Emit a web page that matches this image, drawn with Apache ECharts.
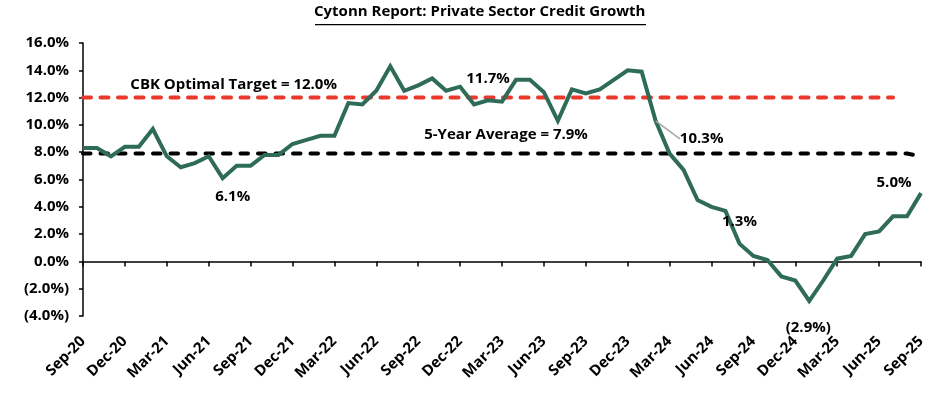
<!DOCTYPE html>
<html>
<head>
<meta charset="utf-8">
<script src="https://cdn.jsdelivr.net/npm/echarts@6/dist/echarts.min.js"></script>
<style>
  html, body { margin: 0; padding: 0; background: #fff; }
  #chart { width: 934px; height: 398px; }
</style>
</head>
<body>
<div id="chart"></div>
<script>
// months, Sep-20 .. Sep-25
const months = [
  'Sep-20', 'Oct-20', 'Nov-20', 'Dec-20', 'Jan-21', 'Feb-21', 'Mar-21', 'Apr-21', 'May-21', 'Jun-21',
  'Jul-21', 'Aug-21', 'Sep-21', 'Oct-21', 'Nov-21', 'Dec-21', 'Jan-22', 'Feb-22', 'Mar-22', 'Apr-22',
  'May-22', 'Jun-22', 'Jul-22', 'Aug-22', 'Sep-22', 'Oct-22', 'Nov-22', 'Dec-22', 'Jan-23', 'Feb-23',
  'Mar-23', 'Apr-23', 'May-23', 'Jun-23', 'Jul-23', 'Aug-23', 'Sep-23', 'Oct-23', 'Nov-23', 'Dec-23',
  'Jan-24', 'Feb-24', 'Mar-24', 'Apr-24', 'May-24', 'Jun-24', 'Jul-24', 'Aug-24', 'Sep-24', 'Oct-24',
  'Nov-24', 'Dec-24', 'Jan-25', 'Feb-25', 'Mar-25', 'Apr-25', 'May-25', 'Jun-25', 'Jul-25', 'Aug-25',
  'Sep-25'
]

// private sector credit growth, %
const creditGrowth = [
  8.3, 8.3, 7.7, 8.4, 8.4, 9.7, 7.7, 6.9, 7.2, 7.7,
  6.1, 7.0, 7.0, 7.8, 7.8, 8.6, 8.9, 9.2, 9.2, 11.6,
  11.5, 12.5, 14.3, 12.5, 12.9, 13.4, 12.5, 12.8, 11.5, 11.8,
  11.7, 13.3, 13.3, 12.4, 10.3, 12.6, 12.3, 12.6, 13.3, 14.0,
  13.9, 10.3, 7.9, 6.7, 4.5, 4.0, 3.7, 1.3, 0.4, 0.1,
  -1.1, -1.4, -2.9, -1.4, 0.2, 0.4, 2.0, 2.2, 3.3, 3.3,
  5.0
]

// CBK optimal target (stops at Jul-25)
const cbkTarget = [
  12.0, 12.0, 12.0, 12.0, 12.0, 12.0, 12.0, 12.0, 12.0, 12.0,
  12.0, 12.0, 12.0, 12.0, 12.0, 12.0, 12.0, 12.0, 12.0, 12.0,
  12.0, 12.0, 12.0, 12.0, 12.0, 12.0, 12.0, 12.0, 12.0, 12.0,
  12.0, 12.0, 12.0, 12.0, 12.0, 12.0, 12.0, 12.0, 12.0, 12.0,
  12.0, 12.0, 12.0, 12.0, 12.0, 12.0, 12.0, 12.0, 12.0, 12.0,
  12.0, 12.0, 12.0, 12.0, 12.0, 12.0, 12.0, 12.0, 12.0, '-',
  '-'
]

// 5-year average
const fiveYearAvg = [
  7.9, 7.9, 7.9, 7.9, 7.9, 7.9, 7.9, 7.9, 7.9, 7.9,
  7.9, 7.9, 7.9, 7.9, 7.9, 7.9, 7.9, 7.9, 7.9, 7.9,
  7.9, 7.9, 7.9, 7.9, 7.9, 7.9, 7.9, 7.9, 7.9, 7.9,
  7.9, 7.9, 7.9, 7.9, 7.9, 7.9, 7.9, 7.9, 7.9, 7.9,
  7.9, 7.9, 7.9, 7.9, 7.9, 7.9, 7.9, 7.9, 7.9, 7.9,
  7.9, 7.9, 7.9, 7.9, 7.9, 7.9, 7.9, 7.9, 7.9, 7.9,
  7.7
]

const yTicks = { min: -4, max: 16, interval: 2 }

// which points carry a value label, and how far the label is shifted
const pointLabels = {
  10: [10, 19],
  30: [-14, -23],
  41: [46, 18],
  47: [0, -22],
  52: [-1, 27],
  60: [-27, -10]
}
const leaderLineAt = 41

const FONT = 'Open Sans'

function pct(v) {
  return v < 0 ? '(' + Math.abs(v).toFixed(1) + '%)' : v.toFixed(1) + '%'
}

function labelled(values, labels, textFn) {
  return values.map((v, i) => {
    if (!(i in labels)) return v
    return {
      value: v,
      label: {
        show: true,
        position: 'inside',
        formatter: textFn(v),
        color: '#000',
        fontFamily: FONT,
        fontWeight: 'bold',
        fontSize: 15
      },
      labelLine: { show: i === leaderLineAt && labels === pointLabels }
    }
  })
}

function shiftLabels(labels) {
  return params => {
    const d = labels[params.dataIndex]
    if (d) return { dx: d[0], dy: d[1] }
  }
}

const chart = echarts.init(document.getElementById('chart'), null, { renderer: 'canvas' })

chart.setOption({
  animation: false,
  backgroundColor: '#fff',
  grid: { left: 83, right: 13, top: 43, bottom: 82 },
  graphic: [
    {
      type: 'text',
      left: 314,
      top: 4,
      style: {
        text: 'Cytonn Report: Private Sector Credit Growth',
        fontFamily: FONT,
        fontWeight: 'bold',
        fontSize: 15,
        fill: '#000'
      }
    },
    {
      type: 'rect',
      shape: { x: 315, y: 24, width: 331, height: 1.2 },
      style: { fill: '#000' }
    }
  ],
  xAxis: [
    {
      type: 'category',
      data: months,
      boundaryGap: false,
      axisLine: { show: false },
      axisTick: { show: false },
      axisLabel: {
        interval: 2,
        rotate: 45,
        margin: 23,
        color: '#000',
        fontFamily: FONT,
        fontWeight: 'bold',
        fontSize: 15
      }
    },
    {
      type: 'category',
      data: months,
      boundaryGap: false,
      position: 'bottom',
      axisLine: {
        onZero: true,
        onZeroAxisIndex: 0,
        lineStyle: { color: '#000', width: 1.5 }
      },
      axisTick: { interval: 2, length: 5, lineStyle: { color: '#000', width: 1.5 } },
      axisLabel: { show: false }
    }
  ],
  yAxis: {
    type: 'value',
    min: yTicks.min,
    max: yTicks.max,
    interval: yTicks.interval,
    splitLine: { show: false },
    axisLine: { show: true, onZero: false, lineStyle: { color: '#000', width: 1.5 } },
    axisTick: { show: true, length: 4, lineStyle: { color: '#000', width: 1.5 } },
    axisLabel: {
      formatter: pct,
      margin: 14,
      color: '#000',
      fontFamily: FONT,
      fontWeight: 'bold',
      fontSize: 15
    }
  },
  series: [
    {
      name: 'CBK Optimal Target',
      type: 'line',
      data: labelled(cbkTarget, { 11: [-3, -13] }, () => 'CBK Optimal Target = 12.0%'),
      symbol: 'circle',
      symbolSize: 0,
      showAllSymbol: true,
      labelLayout: shiftLabels({ 11: [-3, -13] }),
      lineStyle: { color: '#E8392B', width: 4, type: [8, 9.5], cap: 'round' },
      itemStyle: { color: '#E8392B' },
      z: 2
    },
    {
      name: '5-Year Average',
      type: 'line',
      data: labelled(fiveYearAvg, { 30: [4, -19] }, () => '5-Year Average = 7.9%'),
      symbol: 'circle',
      symbolSize: 0,
      showAllSymbol: true,
      labelLayout: shiftLabels({ 30: [4, -19] }),
      lineStyle: { color: '#000', width: 4, type: [7.5, 10], cap: 'round' },
      itemStyle: { color: '#000' },
      z: 2
    },
    {
      name: 'Private Sector Credit Growth',
      type: 'line',
      data: labelled(creditGrowth, pointLabels, pct),
      symbol: 'circle',
      symbolSize: 0,
      showAllSymbol: true,
      lineStyle: { color: '#2E6B58', width: 4, join: 'miter' },
      itemStyle: { color: '#2E6B58' },
      labelLayout: shiftLabels(pointLabels),
      labelLine: { lineStyle: { color: '#A6A6A6', width: 1.5 } },
      z: 3
    }
  ]
})
</script>
</body>
</html>
